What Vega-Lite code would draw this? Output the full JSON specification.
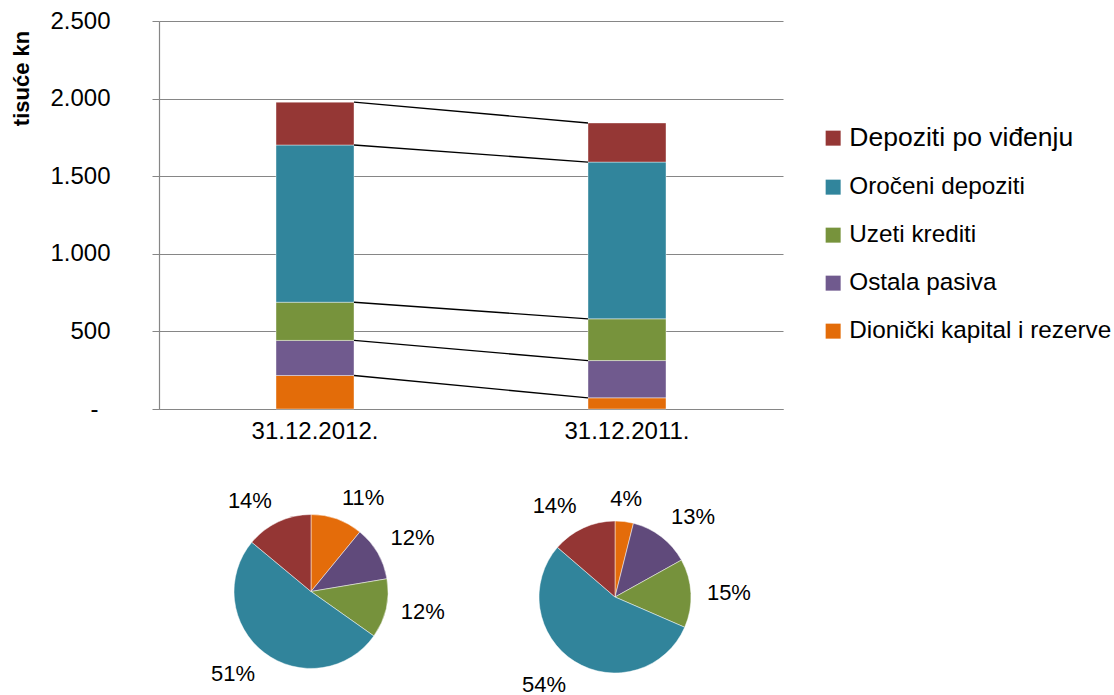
{
  "$schema": "https://vega.github.io/schema/vega-lite/v6.json",
  "padding": {"left": 10, "top": 9, "right": 0, "bottom": 0},
  "background": "white",
  "config": {"view": {"stroke": null}, "font": "Liberation Sans"},
  "data": {
    "values": [
      {"period": "31.12.2012.", "yr": "y2012", "category": "Dionički kapital i rezerve", "order": 1, "value": 216, "pct": 0.11},
      {"period": "31.12.2012.", "yr": "y2012", "category": "Ostala pasiva", "order": 2, "value": 226, "pct": 0.12},
      {"period": "31.12.2012.", "yr": "y2012", "category": "Uzeti krediti", "order": 3, "value": 246, "pct": 0.12},
      {"period": "31.12.2012.", "yr": "y2012", "category": "Oročeni depoziti", "order": 4, "value": 1013, "pct": 0.51},
      {"period": "31.12.2012.", "yr": "y2012", "category": "Depoziti po viđenju", "order": 5, "value": 276, "pct": 0.14},
      {"period": "31.12.2011.", "yr": "y2011", "category": "Dionički kapital i rezerve", "order": 1, "value": 72, "pct": 0.04},
      {"period": "31.12.2011.", "yr": "y2011", "category": "Ostala pasiva", "order": 2, "value": 240, "pct": 0.13},
      {"period": "31.12.2011.", "yr": "y2011", "category": "Uzeti krediti", "order": 3, "value": 269, "pct": 0.15},
      {"period": "31.12.2011.", "yr": "y2011", "category": "Oročeni depoziti", "order": 4, "value": 1010, "pct": 0.54},
      {"period": "31.12.2011.", "yr": "y2011", "category": "Depoziti po viđenju", "order": 5, "value": 252, "pct": 0.14}
    ]
  },
  "bounds": "flush",
  "spacing": 51,
  "resolve": {"scale": {"color": "independent"}},
  "vconcat": [
    {
      "width": 624,
      "height": 388,
      "layer": [
        {
          "mark": {"type": "bar", "stroke": "#ffffff", "strokeWidth": 0.8, "strokeOpacity": 0.5},
          "encoding": {
            "x": {
              "field": "period", "type": "nominal",
              "scale": {"domain": ["31.12.2012.", "31.12.2011."], "paddingInner": 0.75, "paddingOuter": 0.375},
              "axis": {"title": null, "labelAngle": 0, "labelFontSize": 24, "labelColor": "#000000", "labelPadding": 10, "ticks": false, "domainColor": "#868686", "domainWidth": 1.2, "grid": false}
            },
            "y": {
              "field": "value", "type": "quantitative", "stack": "zero",
              "scale": {"domain": [0, 2500], "nice": false},
              "axis": {
                "title": "tisuće kn", "titleFontSize": 22, "titleFontWeight": "bold", "titleColor": "#000000",
                "titleAngle": -90, "titleX": -131, "titleY": 57, "titleBaseline": "alphabetic", "titleAlign": "center",
                "values": [0, 500, 1000, 1500, 2000, 2500],
                "labelExpr": "datum.value == 0 ? '-' : replace(format(datum.value, ','), ',', '.')",
                "labelFontSize": 24, "labelColor": "#000000",
                "labelPadding": {"condition": {"test": "datum.value == 0", "value": 54}, "value": 42},
                "tickSize": 7, "tickColor": "#868686", "domainColor": "#868686", "domainWidth": 1.2,
                "grid": true, "gridColor": "#868686", "gridWidth": 1.2
              }
            },
            "color": {
              "field": "category", "type": "nominal",
              "scale": {
                "domain": ["Depoziti po viđenju", "Oročeni depoziti", "Uzeti krediti", "Ostala pasiva", "Dionički kapital i rezerve"],
                "range": ["#953735", "#31859C", "#77933C", "#705A8E", "#E36C09"]
              },
              "legend": {
                "title": null, "orient": "none", "legendX": 662, "legendY": 105,
                "symbolType": "square", "symbolSize": 225, "symbolStrokeWidth": 0,
                "labelFontSize": {"expr": "datum.label == 'Depoziti po viđenju' ? 26.5 : 24.3"},
                "labelColor": "#000000", "labelOffset": 4, "labelLimit": 400,
                "rowPadding": 23, "padding": 0
              }
            },
            "order": {"field": "order", "type": "quantitative"}
          }
        },
        {
          "transform": [
            {"window": [{"op": "sum", "field": "value", "as": "cum"}], "groupby": ["period"], "sort": [{"field": "order"}]},
            {"pivot": "yr", "value": "cum", "groupby": ["category"]}
          ],
          "mark": {"type": "rule", "color": "#000000", "strokeWidth": 1.4},
          "encoding": {
            "x": {"datum": "31.12.2012.", "type": "nominal", "bandPosition": 1},
            "x2": {"datum": "31.12.2011.", "bandPosition": 0},
            "y": {"field": "y2012", "type": "quantitative"},
            "y2": {"field": "y2011"}
          }
        }
      ]
    },
    {
      "bounds": "flush",
      "spacing": 10,
      "hconcat": [
        {
          "width": 304,
          "height": 230,
          "transform": [{"filter": "datum.period == '31.12.2012.'"}],
          "layer": [
            {
              "mark": {"type": "arc", "outerRadius": 77, "stroke": "#ffffff", "strokeWidth": 0.8, "strokeOpacity": 0.6, "yOffset": 16.5},
              "encoding": {
                "theta": {"field": "value", "type": "quantitative", "stack": "normalize"},
                "color": {
                  "field": "category", "type": "nominal", "legend": null,
                  "scale": {
                    "domain": ["Depoziti po viđenju", "Oročeni depoziti", "Uzeti krediti", "Ostala pasiva", "Dionički kapital i rezerve"],
                    "range": ["#943634", "#31849B", "#76923C", "#604A7B", "#E46C0A"]
                  }
                },
                "order": {"field": "order", "type": "quantitative"}
              }
            },
            {
              "mark": {
                "type": "text", "radius": 92, "fontSize": 22, "color": "#000000", "yOffset": 16.5,
                "align": {"expr": "sin(PI*(datum.value_start+datum.value_end)) > 0.2 ? 'left' : (sin(PI*(datum.value_start+datum.value_end)) < -0.2 ? 'right' : 'center')"},
                "baseline": {"expr": "cos(PI*(datum.value_start+datum.value_end)) > 0.3 ? 'alphabetic' : (cos(PI*(datum.value_start+datum.value_end)) < -0.3 ? 'top' : 'middle')"}
              },
              "encoding": {
                "theta": {"field": "value", "type": "quantitative", "stack": "normalize"},
                "text": {"field": "pct", "type": "quantitative", "format": ".0%"},
                "order": {"field": "order", "type": "quantitative"}
              }
            }
          ]
        },
        {
          "width": 284,
          "height": 230,
          "transform": [{"filter": "datum.period == '31.12.2011.'"}],
          "layer": [
            {
              "mark": {"type": "arc", "outerRadius": 76, "stroke": "#ffffff", "strokeWidth": 0.8, "strokeOpacity": 0.6, "yOffset": 22},
              "encoding": {
                "theta": {"field": "value", "type": "quantitative", "stack": "normalize"},
                "color": {
                  "field": "category", "type": "nominal", "legend": null,
                  "scale": {
                    "domain": ["Depoziti po viđenju", "Oročeni depoziti", "Uzeti krediti", "Ostala pasiva", "Dionički kapital i rezerve"],
                    "range": ["#943634", "#31849B", "#76923C", "#604A7B", "#E46C0A"]
                  }
                },
                "order": {"field": "order", "type": "quantitative"}
              }
            },
            {
              "mark": {
                "type": "text", "radius": 92, "fontSize": 22, "color": "#000000", "yOffset": 22,
                "align": {"expr": "sin(PI*(datum.value_start+datum.value_end)) > 0.2 ? 'left' : (sin(PI*(datum.value_start+datum.value_end)) < -0.2 ? 'right' : 'center')"},
                "baseline": {"expr": "cos(PI*(datum.value_start+datum.value_end)) > 0.3 ? 'alphabetic' : (cos(PI*(datum.value_start+datum.value_end)) < -0.3 ? 'top' : 'middle')"}
              },
              "encoding": {
                "theta": {"field": "value", "type": "quantitative", "stack": "normalize"},
                "text": {"field": "pct", "type": "quantitative", "format": ".0%"},
                "order": {"field": "order", "type": "quantitative"}
              }
            }
          ]
        }
      ]
    }
  ]
}
